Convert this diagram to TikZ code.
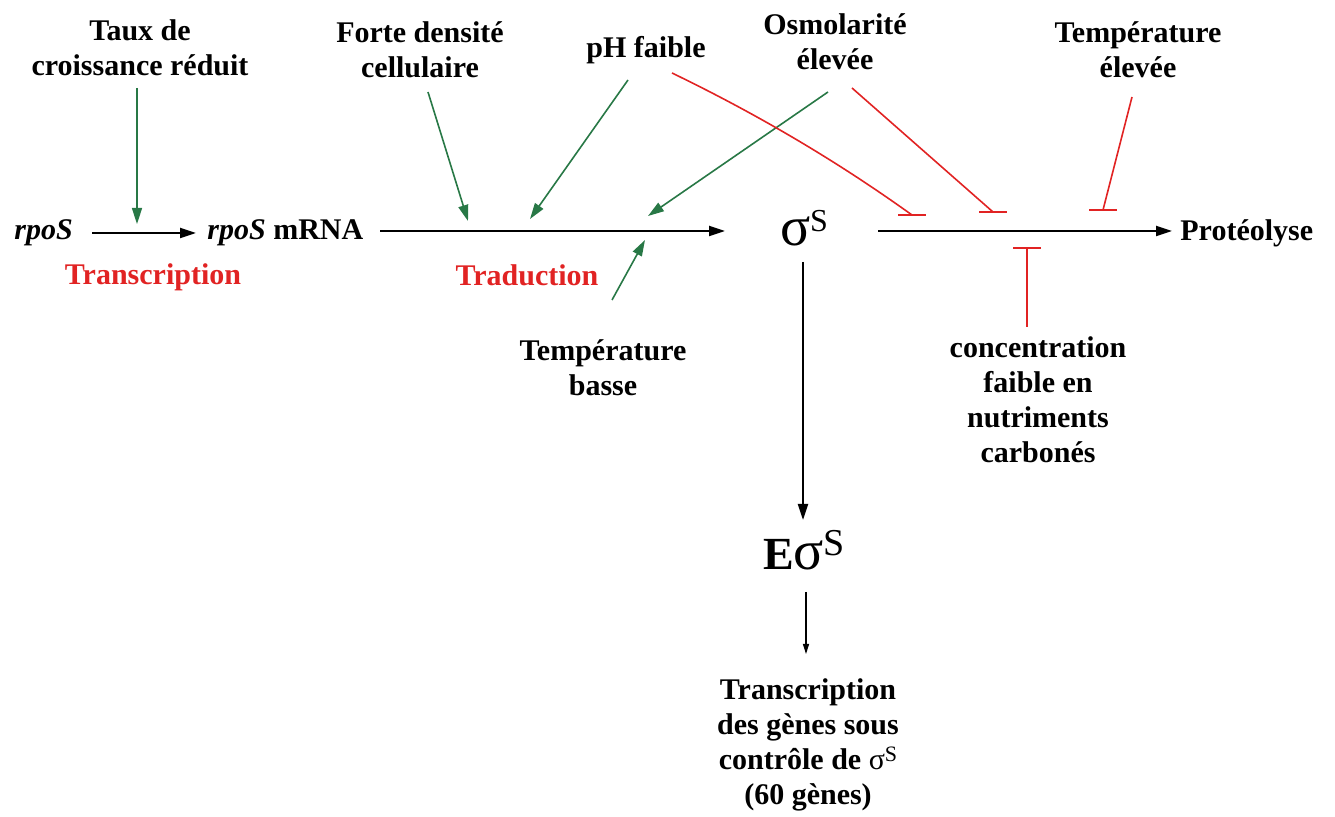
\documentclass[tikz,border=0pt]{standalone}
\usepackage{fontspec}
\setmainfont{Liberation Serif}
\usetikzlibrary{arrows.meta}
\definecolor{actgreen}{RGB}{40,120,70}
\definecolor{inhred}{RGB}{225,35,35}
\newcommand{\sigS}[3]{{\fontsize{#1}{#1}\selectfont σ}\raisebox{#2}{\fontsize{#3}{#3}\selectfont S}}
\tikzset{
  lbl/.style={font=\fontsize{15}{17.5}\selectfont\bfseries, align=center, inner sep=1pt},
  redlbl/.style={lbl, text=inhred},
  mainarr/.style={draw=black, line width=1.1pt, -{Triangle[length=8pt,width=5pt]}},
  act/.style={draw=actgreen, line width=0.8pt, -{Triangle[length=8pt,width=5pt]}},
  inh/.style={draw=inhred, line width=0.8pt},
  inhbar/.style={draw=inhred, line width=0.9pt},
}
\begin{document}
\begin{tikzpicture}[x=0.5pt,y=-0.5pt]
\useasboundingbox (0,0) rectangle (1335,817);
% main chain nodes
\node[lbl, anchor=west] (rpos) at (12,233) {\itshape rpoS};
\node[lbl, anchor=west] (mrna) at (205,233) {\itshape rpoS\/\upshape\ mRNA};
\node[inner sep=0pt] (sig) at (804,228) {\sigS{28}{7pt}{16}};
\node[lbl, anchor=west] (prot) at (1178,233) {Protéolyse};
\node[inner sep=0pt] (esig) at (804,550) {{\fontsize{23}{23}\selectfont\bfseries E}\sigS{28}{7pt}{19}};
\node[lbl] (tgenes) at (808,745) {Transcription\\des gènes sous\\contrôle de {\mdseries σ}\raisebox{4pt}{\fontsize{11}{11}\selectfont\mdseries S}\\(60 gènes)};
% red process labels
\node[redlbl] (transc) at (153,277) {Transcription};
\node[redlbl] (trad) at (527,275) {Traduction};
% factor labels
\node[lbl] (taux) at (140,48) {Taux de\\croissance réduit};
\node[lbl] (forte) at (420,50) {Forte densité\\cellulaire};
\node[lbl] (ph) at (646,50) {pH faible};
\node[lbl] (osmo) at (835,42) {Osmolarité\\élevée};
\node[lbl] (tempe) at (1138,50) {Température\\élevée};
\node[lbl] (tempb) at (603,368) {Température\\basse};
\node[lbl] (carb) at (1038,400) {concentration\\faible en\\nutriments\\carbonés};
% coordinates on main arrows
\coordinate (a1s) at (92,233);
\coordinate (a1e) at (196,233);
\coordinate (a2s) at (380,231);
\coordinate (a2e) at (725,231);
\coordinate (a3s) at (878,231);
\coordinate (a3e) at (1172,231);
% main arrows
\draw[mainarr] (a1s) -- (a1e);
\draw[mainarr] (a2s) -- (a2e);
\draw[mainarr] (a3s) -- (a3e);
\coordinate (v1s) at (803,262);
\coordinate (v1e) at (803,520);
\draw[mainarr] (v1s) -- (v1e);
\coordinate (v2s) at (806,592);
\coordinate (v2e) at (806,654);
\draw[line width=0.6pt, -{Triangle[length=5pt,width=3pt]}] (v2s) -- (v2e);
% green activation arrows
\coordinate (g1s) at (137,88);  \coordinate (g1e) at (137,224);
\coordinate (g2s) at (428,92);  \coordinate (g2e) at (468,221);
\coordinate (g3s) at (628,80);  \coordinate (g3e) at (530,219);
\coordinate (g4s) at (828,92);  \coordinate (g4e) at (648,216);
\coordinate (g5s) at (612,300); \coordinate (g5e) at (645,240);
\draw[act] (g1s) -- (g1e);
\draw[act] (g2s) -- (g2e);
\draw[act] (g3s) -- (g3e);
\draw[act] (g4s) -- (g4e);
\draw[act] (g5s) -- (g5e);
% red inhibition lines with horizontal bars
\coordinate (r1s) at (672,73);   \coordinate (r1e) at (912,215);
\coordinate (r2s) at (852,88);   \coordinate (r2e) at (993,212);
\coordinate (r3s) at (1132,97);  \coordinate (r3e) at (1103,210);
\coordinate (r4s) at (1027,327); \coordinate (r4e) at (1027,248);
\draw[inh] (r1s) .. controls (790,130) and (870,185) .. (r1e);
\draw[inh] (r2s) -- (r2e);
\draw[inh] (r3s) -- (r3e);
\draw[inh] (r4s) -- (r4e);
\draw[inhbar] ([xshift=-7pt]r1e) -- ([xshift=7pt]r1e);
\draw[inhbar] ([xshift=-7pt]r2e) -- ([xshift=7pt]r2e);
\draw[inhbar] ([xshift=-7pt]r3e) -- ([xshift=7pt]r3e);
\draw[inhbar] ([xshift=-7pt]r4e) -- ([xshift=7pt]r4e);
\end{tikzpicture}
\end{document}
